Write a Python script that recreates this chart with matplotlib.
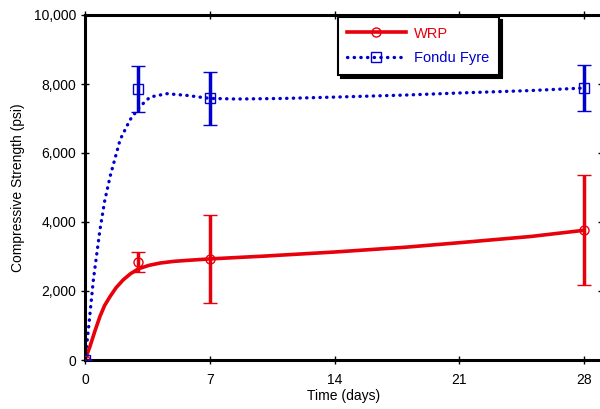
import matplotlib; matplotlib.use("Agg")
import matplotlib.pyplot as plt
from matplotlib.ticker import FuncFormatter, MultipleLocator
from matplotlib.lines import Line2D

plt.rcParams["font.family"] = ["Liberation Sans", "DejaVu Sans"]

# measured points (days, psi) with error bars
days = [0, 3, 7, 28]
wrp_mean = [0, 2840, 2930, 3760]
wrp_err = [0, 290, 1285, 1600]
fondu_mean = [0, 7860, 7580, 7890]
fondu_err = [0, 660, 760, 660]

# smoothed curves
wrp_curve_x = [0, 0.28, 0.55, 0.84, 1.1, 1.41, 1.75, 2.15, 2.55, 3.0, 3.6, 4.22, 5.0, 5.71, 7, 10, 14, 18, 21, 25, 28]
wrp_curve_y = [0, 395, 830, 1264, 1580, 1843, 2100, 2327, 2500, 2645, 2745, 2811, 2860, 2887, 2930, 3010, 3130, 3270, 3400, 3580, 3760]
fondu_curve_x = [0, 0.19, 0.47, 0.84, 1.1, 1.41, 1.97, 2.53, 3.09, 3.65, 4.59, 5.7, 7, 8.5, 11, 14, 18, 21, 25, 28]
fondu_curve_y = [0, 878, 2327, 3777, 4600, 5322, 6386, 6965, 7351, 7623, 7719, 7670, 7583, 7565, 7580, 7620, 7680, 7740, 7810, 7884]

RED = "#e8000b"
BLUE = "#0000d0"

fig = plt.figure(figsize=(6, 4.09), dpi=100)
ax = fig.add_axes([85/600, 1-360/409, 517/600, 345/409])

ax.plot(wrp_curve_x, wrp_curve_y, color=RED, lw=2.6, solid_capstyle="round",
        solid_joinstyle="round")
ax.plot(fondu_curve_x, fondu_curve_y, color=BLUE, lw=2.4, linestyle=(0, (0.1, 1.9)),
        dash_capstyle="round")
ax.errorbar(days, wrp_mean, yerr=wrp_err, fmt="o", mfc="none", mec=RED, ms=6.5, mew=1,
            ecolor=RED, elinewidth=2.5, capsize=5, capthick=2.5, zorder=3)
ax.errorbar(days, fondu_mean, yerr=fondu_err, fmt="s", mfc="none", mec=BLUE, ms=7.5, mew=1,
            ecolor=BLUE, elinewidth=2.5, capsize=5, capthick=2.5, zorder=3)

ax.set_xlim(0, 29)
ax.set_ylim(0, 10000)
ax.xaxis.set_major_locator(MultipleLocator(7))
ax.yaxis.set_major_locator(MultipleLocator(2000))
ax.yaxis.set_major_formatter(FuncFormatter(lambda v, p: f"{int(v):,}"))
ax.tick_params(direction="inout", length=6, width=1, labelsize=10, top=True, right=True)
ax.tick_params(axis="x", pad=6)
for s in ax.spines.values():
    s.set_linewidth(2.2)
ax.set_xlabel("Time (days)", fontsize=10, labelpad=2)
ax.set_ylabel("Compressive Strength (psi)", fontsize=10, labelpad=6)

handles = [Line2D([], [], color=RED, lw=2.6, marker="o", mfc="none", mec=RED, ms=6.5),
           Line2D([], [], color=BLUE, lw=2.4, linestyle=(0, (0.1, 1.9)), dash_capstyle="round",
                  marker="s", mfc="none", mec=BLUE, ms=7)]
leg = ax.legend(handles, ["WRP", "Fondu Fyre"], loc="upper left",
                bbox_to_anchor=(0.489, 0.994), borderaxespad=0, fontsize=10.5,
                handlelength=4, fancybox=False, framealpha=1, edgecolor="black",
                borderpad=0.65, labelspacing=0.75, handletextpad=0.6,
                shadow={"color": "black", "alpha": 1})
leg.get_frame().set_linewidth(1.5)
for t, c in zip(leg.get_texts(), [RED, BLUE]):
    t.set_color(c)

fig.savefig("out.png", dpi=100)
